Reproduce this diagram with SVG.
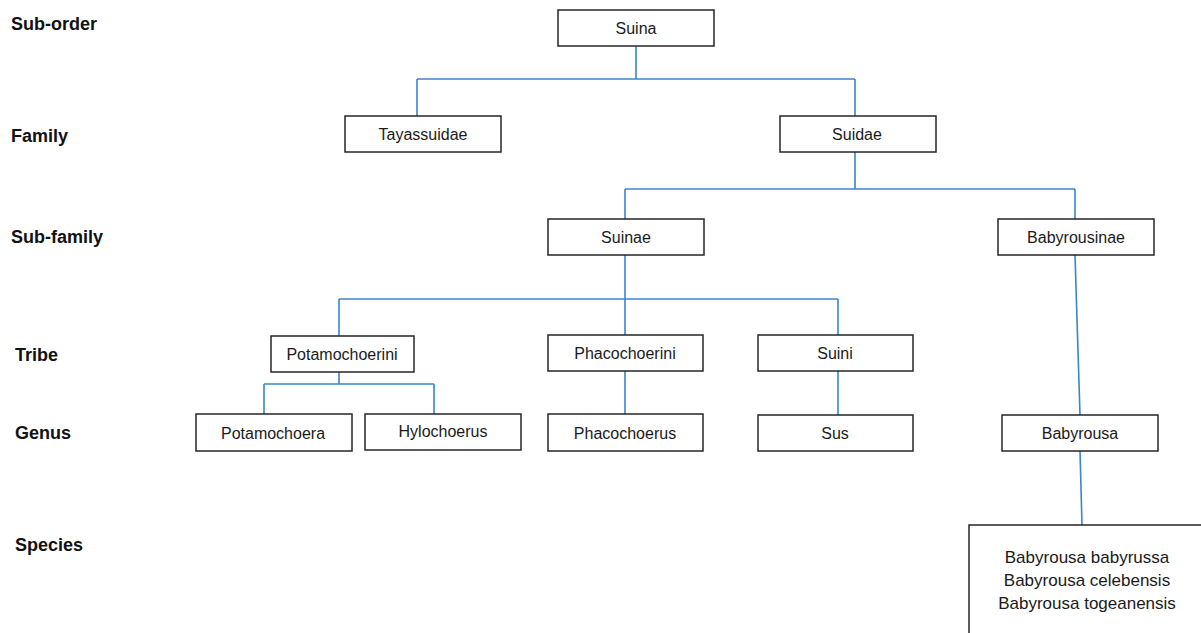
<svg xmlns="http://www.w3.org/2000/svg" width="1201" height="633" viewBox="0 0 1201 633">
<style>
.box{fill:#fff;stroke:#262626;stroke-width:1.5}
.t{font-family:"Liberation Sans",Arial,sans-serif;font-size:16px;fill:#1a1a1a;text-anchor:middle}
.sp{font-family:"Liberation Sans",Arial,sans-serif;font-size:17px;fill:#1a1a1a;text-anchor:middle}
.lbl{font-family:"Liberation Sans",Arial,sans-serif;font-size:18px;font-weight:bold;fill:#111}
.c{fill:none;stroke:#3a86cc;stroke-width:1.6}
</style>
<rect width="1201" height="633" fill="#fff"/>
<g id="labels">
<text class="lbl" x="11" y="30">Sub-order</text>
<text class="lbl" x="11" y="142">Family</text>
<text class="lbl" x="11" y="243">Sub-family</text>
<text class="lbl" x="15" y="361">Tribe</text>
<text class="lbl" x="15" y="439">Genus</text>
<text class="lbl" x="15" y="551">Species</text>
</g>
<g id="connectors">
<path class="c" d="M636 46V79M417 79H855M417 79V116M855 79V116"/>
<path class="c" d="M855 152V189M625 189H1075M625 189V219M1075 189V219"/>
<path class="c" d="M625 255V336M339 299H838M339 299V336M838 299V336"/>
<path class="c" d="M339 372V384M264 384H434M264 384V414M434 384V414"/>
<path class="c" d="M625 371V414M838 371V415"/>
<path class="c" d="M1075 255L1080 415M1080 451L1082 525"/>
</g>
<g id="n-suina"><rect class="box" x="558" y="10" width="156" height="36"/><text class="t" x="636" y="34">Suina</text></g>
<g id="n-tayassuidae"><rect class="box" x="345" y="116" width="156" height="36"/><text class="t" x="423" y="140">Tayassuidae</text></g>
<g id="n-suidae"><rect class="box" x="780" y="116" width="156" height="36"/><text class="t" x="857" y="140">Suidae</text></g>
<g id="n-suinae"><rect class="box" x="548" y="219" width="156" height="36"/><text class="t" x="626" y="243">Suinae</text></g>
<g id="n-babyrousinae"><rect class="box" x="998" y="219" width="156" height="36"/><text class="t" x="1076" y="243">Babyrousinae</text></g>
<g id="n-potamochoerini"><rect class="box" x="271" y="336" width="143" height="36"/><text class="t" x="342" y="360">Potamochoerini</text></g>
<g id="n-phacochoerini"><rect class="box" x="548" y="335" width="155" height="36"/><text class="t" x="625" y="359">Phacochoerini</text></g>
<g id="n-suini"><rect class="box" x="758" y="335" width="155" height="36"/><text class="t" x="835" y="359">Suini</text></g>
<g id="n-potamochoera"><rect class="box" x="196" y="414" width="156" height="37"/><text class="t" x="273" y="439">Potamochoera</text></g>
<g id="n-hylochoerus"><rect class="box" x="365" y="414" width="156" height="36"/><text class="t" x="443" y="437">Hylochoerus</text></g>
<g id="n-phacochoerus"><rect class="box" x="548" y="414" width="155" height="37"/><text class="t" x="625" y="439">Phacochoerus</text></g>
<g id="n-sus"><rect class="box" x="758" y="415" width="155" height="36"/><text class="t" x="835" y="439">Sus</text></g>
<g id="n-babyrousa"><rect class="box" x="1002" y="415" width="156" height="36"/><text class="t" x="1080" y="439">Babyrousa</text></g>
<g id="n-species"><rect class="box" x="969" y="525" width="260" height="130"/>
<text class="sp" x="1087" y="563">Babyrousa babyrussa</text>
<text class="sp" x="1087" y="586">Babyrousa celebensis</text>
<text class="sp" x="1087" y="609">Babyrousa togeanensis</text></g>
</svg>
